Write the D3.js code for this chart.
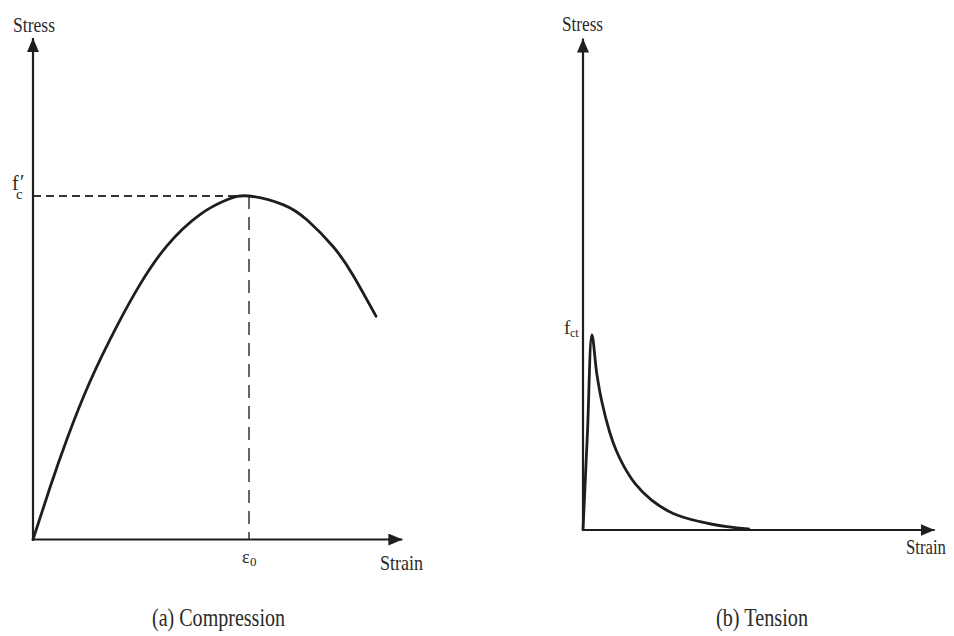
<!DOCTYPE html>
<html>
<head>
<meta charset="utf-8">
<script src="https://cdn.jsdelivr.net/npm/d3@7"></script>
<style>
  html, body { margin: 0; padding: 0; background: #fff; }
  svg { display: block; }
  text { font-family: "Liberation Serif", "Times New Roman", serif; fill: #2a2a2a; }
</style>
</head>
<body>
<svg id="chart" width="954" height="636"></svg>
<script>
// Compression: normalised strain (ε/ε0) and stress (f/f'c)
const compStrain = [0, 0.079, 0.157, 0.264, 0.389, 0.495, 0.620, 0.773, 0.898, 1.0, 1.157, 1.269, 1.389, 1.481, 1.588];
const compStress = [0, 0.152, 0.292, 0.460, 0.622, 0.742, 0.855, 0.946, 0.989, 1.0, 0.975, 0.930, 0.853, 0.770, 0.650];

// Tension: strain in multiples of the cracking strain, stress as f/fct
const tensStrain = [0, 0.5, 1.0, 1.55, 2.1, 3.0, 3.7, 4.6, 5.82, 7.65, 10.1, 13.1, 16.1, 18.7];
const tensStress = [0, 0.5, 1.0, 0.80, 0.66, 0.50, 0.41, 0.325, 0.239, 0.154, 0.085, 0.043, 0.017, 0.004];

const axisTitles = { y: "Stress", x: "Strain" };
const captions = ["(a) Compression", "(b) Tension"];

const svg = d3.select("#chart");
const ink = "#1e1e1e";

// arrowhead marker
svg.append("defs").append("marker")
  .attr("id", "arrow")
  .attr("viewBox", "0 0 14 12")
  .attr("refX", 14).attr("refY", 6)
  .attr("markerWidth", 14).attr("markerHeight", 12)
  .attr("markerUnits", "userSpaceOnUse")
  .attr("orient", "auto")
  .append("path").attr("d", "M0,0 L14,6 L0,12 Z").attr("fill", ink);

function drawAxes(g, x, y, xMax, yMax) {
  g.append("line")
    .attr("x1", x(0)).attr("y1", y(0)).attr("x2", x(xMax)).attr("y2", y(0))
    .attr("stroke", ink).attr("stroke-width", 2.2).attr("marker-end", "url(#arrow)");
  g.append("line")
    .attr("x1", x(0)).attr("y1", y(0) + 1).attr("x2", x(0)).attr("y2", y(yMax))
    .attr("stroke", ink).attr("stroke-width", 2.2).attr("marker-end", "url(#arrow)");
}

function label(g, txt, x, yb, size, len, anchor) {
  return g.append("text")
    .attr("x", x).attr("y", yb)
    .attr("font-size", size)
    .attr("textLength", len).attr("lengthAdjust", "spacingAndGlyphs")
    .attr("text-anchor", anchor || "start")
    .text(txt);
}

// ---------- (a) Compression ----------
{
  const x = d3.scaleLinear().domain([0, 1]).range([33, 249]);
  const y = d3.scaleLinear().domain([0, 1]).range([539.5, 196]);
  const g = svg.append("g");

  // guide lines to the peak
  g.append("line")
    .attr("x1", x(0)).attr("x2", x(1)).attr("y1", y(1)).attr("y2", y(1))
    .attr("stroke", "#333").attr("stroke-width", 1.8).attr("stroke-dasharray", "8,5");
  g.append("line")
    .attr("x1", x(1)).attr("x2", x(1)).attr("y1", y(1)).attr("y2", y(0))
    .attr("stroke", "#333").attr("stroke-width", 1.5).attr("stroke-dasharray", "13,8");

  drawAxes(g, x, y, 1.71, 1.46);

  const pts = compStrain.map((s, i) => [s, compStress[i]]);
  g.append("path")
    .attr("d", d3.line().x(d => x(d[0])).y(d => y(d[1])).curve(d3.curveNatural)(pts))
    .attr("fill", "none").attr("stroke", ink).attr("stroke-width", 2.8)
    .attr("stroke-linecap", "round");

  label(g, axisTitles.y, 13, 32, 21, 42);
  label(g, axisTitles.x, 380, 570, 21, 43);
  label(g, captions[0], 152, 626, 25, 133);

  // f'c
  const fc = g.append("text").attr("font-family", "'Open Sans', sans-serif").attr("font-size", 20);
  fc.append("tspan").attr("x", 12).attr("y", 190).text("f");
  fc.append("tspan").attr("x", 20).attr("y", 189).text("′");
  fc.append("tspan").attr("x", 16).attr("y", 199).attr("font-size", 15).text("c");

  // ε0
  const e0 = g.append("text").attr("font-size", 18);
  e0.append("tspan").attr("x", 242).attr("y", 563).text("ε");
  e0.append("tspan").attr("x", 250).attr("y", 566).attr("font-size", 13).text("0");
}

// ---------- (b) Tension ----------
{
  const x = d3.scaleLinear().domain([0, 40]).range([583, 940]);
  const y = d3.scaleLinear().domain([0, 1]).range([530, 335]);
  const g = svg.append("g");

  drawAxes(g, x, y, 39.4, 2.52);

  const pts = tensStrain.map((s, i) => [s, tensStress[i]]);
  g.append("path")
    .attr("d", d3.line().x(d => x(d[0])).y(d => y(d[1])).curve(d3.curveCatmullRom.alpha(0.5))(pts))
    .attr("fill", "none").attr("stroke", ink).attr("stroke-width", 2.8)
    .attr("stroke-linejoin", "round");

  label(g, axisTitles.y, 562, 31, 21, 41);
  label(g, axisTitles.x, 906, 554, 21, 40);
  label(g, captions[1], 716, 626, 25, 92);

  const ft = g.append("text").attr("font-size", 19);
  ft.append("tspan").attr("x", 564).attr("y", 334).text("f");
  ft.append("tspan").attr("x", 570).attr("y", 337).attr("font-size", 12).text("ct");
}
</script>
</body>
</html>
